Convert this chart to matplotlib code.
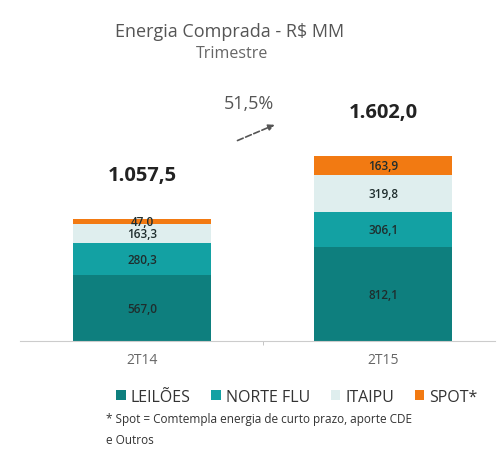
import numpy as np
import matplotlib.pyplot as plt

plt.rcParams['font.family'] = ['Open Sans', 'DejaVu Sans']

periods = ['2T14', '2T15']
leiloes = np.array([567.0, 812.1])
norte_flu = np.array([280.3, 306.1])
itaipu = np.array([163.3, 319.8])
spot = np.array([47.0, 163.9])
totals = np.array([1057.5, 1602.0])
growth = '51,5%'

series = [('LEILÕES', leiloes, '#0e7f7e'),
          ('NORTE FLU', norte_flu, '#13a1a3'),
          ('ITAIPU', itaipu, '#dfeeee'),
          ('SPOT*', spot, '#f27a12')]

def br(v):
    s = f'{v:,.1f}'
    return s.replace(',', 'X').replace('.', ',').replace('X', '.')

W, H = 499, 452
fig = plt.figure(figsize=(W / 100, H / 100), dpi=100)
# axes in pixel positions: left 20, right 495, bottom 342, top 60
ax = fig.add_axes([20 / W, (H - 342) / H, 475 / W, 282 / H])

x = np.arange(len(periods))
bottom = np.zeros(len(periods))
handles = []
for name, vals, col in series:
    b = ax.bar(x, vals, 0.572, bottom=bottom, color=col, label=name)
    handles.append(b)
    for xi, v, b0 in zip(x, vals, bottom):
        ax.text(xi, b0 + v / 2, br(v), ha='center', va='center',
                fontsize=8.5, fontweight='semibold', color='#1f2d2d')
    bottom += vals

for xi, t in zip(x, totals):
    ax.text(xi, t + 380, br(t), ha='center', va='center',
            fontsize=14.5, fontweight='bold', color='#222222')

ax.set_xlim(-0.505, 1.462)
ax.set_ylim(0, 2440)
ax.set_xticks(x)
ax.set_xticklabels(periods, fontsize=10, color='#666666')
ax.set_xticks([0.5], minor=True)
ax.tick_params(axis='x', which='major', length=0, pad=8)
ax.tick_params(axis='x', which='minor', length=3, color='#bbbbbb')
ax.set_yticks([])
for s in ['top', 'right', 'left']:
    ax.spines[s].set_visible(False)
ax.spines['bottom'].set_color('#cccccc')

# growth arrow
ax.annotate('', xy=(0.56, 1880), xytext=(0.385, 1725),
            arrowprops=dict(arrowstyle='-|>', linestyle='--', color='#555555',
                            lw=1.2, mutation_scale=9))
ax.text(0.445, 2060, growth, ha='center', va='center', fontsize=13,
        color='#555555')

fig.text(230 / W, 1 - 32 / H, 'Energia Comprada - R$ MM', ha='center',
         va='center', fontsize=13, color='#555555')
fig.text(232 / W, 1 - 54 / H, 'Trimestre', ha='center', va='center',
         fontsize=11.5, color='#666666')

fig.legend(handles=handles, loc='center', bbox_to_anchor=(297 / W, 1 - 398 / H),
           ncol=4, frameon=False, fontsize=11.5, handlelength=0.6,
           handleheight=0.6, handletextpad=0.3, columnspacing=1.3,
           labelcolor='#333333')

fig.text(106 / W, 1 - 420 / H,
         '* Spot = Comtempla energia de curto prazo, aporte CDE',
         ha='left', va='center', fontsize=8.5, color='#333333')
fig.text(106 / W, 1 - 441 / H, 'e Outros', ha='left', va='center',
         fontsize=8.5, color='#333333')

fig.savefig('out.png', dpi=100)
